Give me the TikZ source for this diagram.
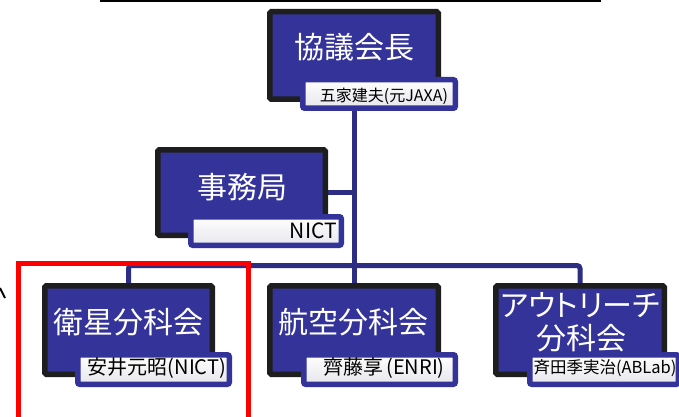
\documentclass[tikz,border=0pt]{standalone}
\usepackage{fontspec}
\setmainfont{Noto Sans CJK JP}
\newfontfamily\paltfont[RawFeature=+palt]{Noto Sans CJK JP}
\usetikzlibrary{backgrounds}
\definecolor{boxblue}{HTML}{333399}
\definecolor{lineblue}{HTML}{2D2D82}
\definecolor{boxblack}{HTML}{1E1E1E}
\definecolor{namefill}{HTML}{E6E6EC}
\definecolor{framered}{HTML}{FF0000}
\begin{document}
\begin{tikzpicture}[x=1pt,y=-1pt,
  mainbox/.style={draw=boxblack, line width=5.5pt, fill=boxblue, rounded corners=1.5pt, inner sep=0pt},
  namebox/.style={draw=boxblue, line width=5.5pt, top color=white, bottom color=namefill, rounded corners=2pt, inner sep=0pt},
  title/.style={text=white, font=\fontsize{30}{34}\selectfont, inner sep=0pt},
  person/.style={text=black, font=\fontsize{20}{22}\selectfont, inner sep=0pt},
  link/.style={draw=lineblue, line width=5pt},
  focusframe/.style={draw=framered, line width=5pt, inner sep=0pt},
  rule/.style={draw=black, line width=2.5pt}]
\useasboundingbox (0,0) rectangle (679,417);

% top rule and left mark
\coordinate (ruleL) at (100,1);
\coordinate (ruleR) at (601,1);
\draw[rule] (ruleL) -- (ruleR);
\coordinate (markA) at (0,288);
\coordinate (markB) at (5,298);
\draw[black, line width=2pt] (markA) -- (markB);

% boxes
\node[mainbox, minimum width=168.5pt, minimum height=87.5pt] (chairbox) at (354,55.5) {};
\node[mainbox, minimum width=167.5pt, minimum height=85.5pt] (secbox) at (241.5,192.5) {};
\node[mainbox, minimum width=167.5pt, minimum height=88.5pt] (satbox) at (128.5,330) {};
\node[mainbox, minimum width=168.5pt, minimum height=88.5pt] (aerobox) at (354,330) {};
\node[mainbox, minimum width=168.5pt, minimum height=88.5pt] (outbox) at (580,330) {};

% connectors (behind boxes)
\coordinate (busmid) at (354,265.5);
\begin{scope}[on background layer]
\draw[link] (chairbox.south) -- (aerobox.north);
\draw[link] (secbox.east) -- (secbox.east -| chairbox.south);
\draw[link, rounded corners=3pt] (satbox.north) |- (busmid) -| (outbox.north);
\end{scope}

% name plates
\node[namebox, minimum width=152.5pt, minimum height=28.5pt] (chairlabel) at (379,94) {};
\node[namebox, minimum width=150.5pt, minimum height=28.5pt] (seclabel) at (266,231) {};
\node[namebox, minimum width=151.5pt, minimum height=29.5pt] (satlabel) at (153.5,369.5) {};
\node[namebox, minimum width=151.5pt, minimum height=29.5pt] (aerolabel) at (379.5,369.5) {};
\node[namebox, minimum width=148.5pt, minimum height=29.5pt] (outlabel) at (604,369.5) {};

% titles
\node[title] (chairtxt) at (354,47) {協議会長};
\node[title] (sectxt) at (242,187) {事務局};
\node[title] (sattxt) at (128,322) {衛星分科会};
\node[title] (aerotxt) at (353,322) {航空分科会};
\node[title, font=\paltfont\fontsize{30}{34}\selectfont] (outtxt1) at (580,305) {アウトリーチ};
\node[title] (outtxt2) at (581,338) {分科会};

% persons
\node[person, font=\fontsize{16}{18}\selectfont] (chairname) at (384,96) {五家建夫(元JAXA)};
\node[person, anchor=east, font=\fontsize{21}{23}\selectfont] (secname) at (337,231) {NICT};
\node[person] (satname) at (157,368) {安井元昭(NICT)};
\node[person] (aeroname) at (384,368) {齊藤享\kern3pt(ENRI)};
\node[person, font=\fontsize{16.5}{18}\selectfont] (outname) at (605,368) {斉田季実治(ABLab)};

% red focus frame
\node[focusframe, minimum width=230.5pt, minimum height=166.5pt] (focus) at (133.25,346.75) {};
\end{tikzpicture}
\end{document}
